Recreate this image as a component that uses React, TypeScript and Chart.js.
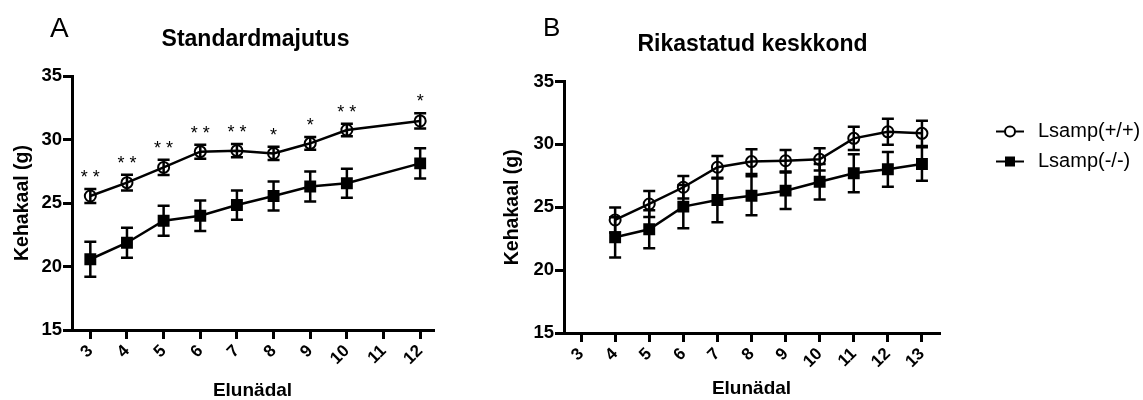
import React, { useEffect, useRef } from "react";
import { Chart, registerables } from "chart.js";

Chart.register(...registerables);

const FONT = "'Liberation Sans', Arial, Helvetica, sans-serif";

// Shared
const seriesNames = ["Lsamp(+/+)", "Lsamp(-/-)"];
const yTicks = [15, 20, 25, 30, 35];
const yAxisTitle = "Kehakaal (g)";
const xAxisTitle = "Elunädal";

// Panel A
const titleA = "Standardmajutus";
const weeksA = [3, 4, 5, 6, 7, 8, 9, 10, 12];
const xTicksA = [3, 4, 5, 6, 7, 8, 9, 10, 11, 12];
const wtA = [25.55, 26.6, 27.8, 29.04, 29.12, 28.9, 29.7, 30.75, 31.46];
const wtAErr = [0.55, 0.62, 0.6, 0.55, 0.52, 0.52, 0.5, 0.5, 0.6];
const koA = [20.57, 21.87, 23.6, 24.0, 24.84, 25.55, 26.3, 26.55, 28.12];
const koAErr = [1.38, 1.18, 1.18, 1.2, 1.15, 1.14, 1.18, 1.14, 1.2];
const starsA = ["* *", "* *", "* *", "* *", "* *", "*", "*", "* *", "*"];

// Panel B
const titleB = "Rikastatud keskkond";
const weeksB = [4, 5, 6, 7, 8, 9, 10, 11, 12, 13];
const xTicksB = [3, 4, 5, 6, 7, 8, 9, 10, 11, 12, 13];
const wtB = [23.99, 25.26, 26.59, 28.18, 28.63, 28.7, 28.81, 30.48, 31.0, 30.88];
const wtBErr = [1.0, 1.03, 0.89, 0.9, 0.98, 0.86, 0.89, 0.93, 1.03, 1.0];
const koB = [22.61, 23.25, 25.05, 25.58, 25.92, 26.32, 27.03, 27.7, 28.02, 28.44];
const koBErr = [1.6, 1.51, 1.72, 1.77, 1.55, 1.45, 1.41, 1.51, 1.38, 1.33];

const errorBarPlugin = {
  id: "errorBars",
  afterDatasetsDraw(chart: any) {
    const { ctx } = chart;
    const yScale = chart.scales.y;
    chart.data.datasets.forEach((ds: any, i: number) => {
      const errs = ds.errors;
      if (!errs) return;
      const meta = chart.getDatasetMeta(i);
      ctx.save();
      ctx.strokeStyle = "#000";
      ctx.lineWidth = 2.5;
      const cap = 6;
      meta.data.forEach((pt: any, j: number) => {
        const v = ds.data[j].y;
        const e = errs[j];
        const top = yScale.getPixelForValue(v + e);
        const bot = yScale.getPixelForValue(v - e);
        ctx.beginPath();
        ctx.moveTo(pt.x, top);
        ctx.lineTo(pt.x, bot);
        ctx.moveTo(pt.x - cap, top);
        ctx.lineTo(pt.x + cap, top);
        ctx.moveTo(pt.x - cap, bot);
        ctx.lineTo(pt.x + cap, bot);
        ctx.stroke();
      });
      ctx.restore();
    });
  },
};

function textPlugin(o: any) {
  return {
    id: "panelText",
    afterDraw(chart: any) {
      const { ctx } = chart;
      ctx.save();
      ctx.fillStyle = "#000";
      // Panel letter
      ctx.font = `normal ${o.letterSize}px ${FONT}`;
      ctx.textAlign = "left";
      ctx.textBaseline = "alphabetic";
      ctx.fillText(o.letter, o.letterX, o.letterY);
      // Title
      ctx.font = `bold 23px ${FONT}`;
      ctx.textAlign = "center";
      ctx.textBaseline = "middle";
      const ca = chart.chartArea;
      ctx.fillText(o.title, (ca.left + ca.right) / 2 + (o.titleDx || 0), o.titleY);
      // Stars
      if (o.stars) {
        const ds = chart.data.datasets[0];
        const meta = chart.getDatasetMeta(0);
        const y = chart.scales.y;
        ctx.font = `normal 18px ${FONT}`;
        ctx.textAlign = "center";
        ctx.textBaseline = "middle";
        meta.data.forEach((pt: any, j: number) => {
          const top = y.getPixelForValue(ds.data[j].y + ds.errors[j]);
          ctx.fillText(o.stars[j], pt.x, top - 11);
        });
      }
      // Legend
      if (o.legend) {
        const lx = o.legend.x;
        const rows = [o.legend.y1, o.legend.y2];
        rows.forEach((ry: number, k: number) => {
          ctx.strokeStyle = "#000";
          ctx.lineWidth = 2;
          ctx.beginPath();
          ctx.moveTo(lx, ry);
          ctx.lineTo(lx + 28, ry);
          ctx.stroke();
          if (k === 0) {
            ctx.beginPath();
            ctx.arc(lx + 14, ry, 5, 0, Math.PI * 2);
            ctx.fillStyle = "#fff";
            ctx.fill();
            ctx.stroke();
          } else {
            ctx.fillStyle = "#000";
            ctx.fillRect(lx + 14 - 5, ry - 5, 10, 10);
          }
          ctx.fillStyle = "#000";
          ctx.font = `normal 20px ${FONT}`;
          ctx.textAlign = "left";
          ctx.textBaseline = "middle";
          ctx.fillText(seriesNames[k], lx + 42, ry - 0.5);
        });
      }
      ctx.restore();
    },
  };
}

function makeDatasets(weeks: number[], wt: number[], wtErr: number[], ko: number[], koErr: number[]) {
  const common = {
    borderColor: "#000",
    borderWidth: 2.5,
    pointBorderColor: "#000",
    pointBorderWidth: 2,
    fill: false,
    tension: 0,
    clip: false as any,
  };
  return [
    {
      ...common,
      label: seriesNames[0],
      data: weeks.map((w, i) => ({ x: w, y: wt[i] })),
      errors: wtErr,
      pointStyle: "circle",
      pointRadius: 5.5,
      pointBackgroundColor: "rgba(0,0,0,0)",
    },
    {
      ...common,
      label: seriesNames[1],
      data: weeks.map((w, i) => ({ x: w, y: ko[i] })),
      errors: koErr,
      pointStyle: "rect",
      pointRadius: 7,
      pointBackgroundColor: "#000",
    },
  ];
}

function makeOptions(p: any) {
  const axisGrid = {
    drawOnChartArea: false,
    drawTicks: true,
    tickLength: 9,
    lineWidth: 3,
    color: "#000",
  };
  const border = { display: true, width: 3, color: "#000" };
  return {
    responsive: false,
    animation: false,
    events: [],
    layout: { padding: p.padding },
    plugins: { legend: { display: false }, tooltip: { enabled: false }, title: { display: false } },
    scales: {
      x: {
        type: "linear",
        min: p.xMin,
        max: p.xMax,
        afterBuildTicks: (s: any) => {
          s.ticks = p.xTicks.map((v: number) => ({ value: v }));
        },
        afterFit: (s: any) => {
          s.height = p.xHeight;
        },
        ticks: {
          autoSkip: false,
          minRotation: 45,
          maxRotation: 45,
          padding: 2,
          color: "#000",
          font: { family: FONT, size: 17, weight: "bold" },
          callback: (v: any) => String(v),
        },
        grid: axisGrid,
        border,
        title: {
          display: true,
          text: xAxisTitle,
          color: "#000",
          font: { family: FONT, size: 19, weight: "bold" },
          padding: { top: 0, bottom: p.xTitlePad },
        },
      },
      y: {
        min: 15,
        max: 35,
        afterBuildTicks: (s: any) => {
          s.ticks = yTicks.map((v) => ({ value: v }));
        },
        afterFit: (s: any) => {
          s.width = p.yWidth;
        },
        ticks: {
          padding: 1,
          color: "#000",
          font: { family: FONT, size: 18.5, weight: "bold" },
        },
        grid: axisGrid,
        border,
        title: {
          display: true,
          text: yAxisTitle,
          color: "#000",
          font: { family: FONT, size: 19.5, weight: "bold" },
          padding: { top: 11, bottom: 0 },
        },
      },
    },
  };
}

export default function App() {
  const refA = useRef<HTMLCanvasElement>(null);
  const refB = useRef<HTMLCanvasElement>(null);

  useEffect(() => {
    const a = new Chart(refA.current as HTMLCanvasElement, {
      type: "line",
      data: { datasets: makeDatasets(weeksA, wtA, wtAErr, koA, koAErr) as any },
      options: makeOptions({
        padding: { left: 0, top: 76, right: 37, bottom: 0 },
        xMin: 2.5,
        xMax: 12.35,
        xTicks: xTicksA,
        xHeight: 70,
        yWidth: 72,
        xTitlePad: -2,
      }) as any,
      plugins: [
        errorBarPlugin,
        textPlugin({ letter: "A", letterSize: 28, letterX: 50, letterY: 37, title: titleA, titleY: 39.5, titleDx: 3, stars: starsA }),
      ],
    });
    const b = new Chart(refB.current as HTMLCanvasElement, {
      type: "line",
      data: { datasets: makeDatasets(weeksB, wtB, wtBErr, koB, koBErr) as any },
      options: makeOptions({
        padding: { left: 20, top: 81.5, right: 204, bottom: 0 },
        xMin: 2.5,
        xMax: 13.5,
        xTicks: xTicksB,
        xHeight: 67,
        yWidth: 74,
        xTitlePad: 0,
      }) as any,
      plugins: [
        errorBarPlugin,
        textPlugin({
          letter: "B",
          letterSize: 26,
          letterX: 73,
          letterY: 36,
          title: titleB,
          titleY: 45,
          titleDx: 1,
          legend: { x: 526, y1: 131.5, y2: 161.5 },
        }),
      ],
    });
    return () => {
      a.destroy();
      b.destroy();
    };
  }, []);

  return (
    <div style={{ position: "absolute", left: 0, top: 0, width: 1143, height: 400, background: "#fff", overflow: "hidden" }}>
      <canvas ref={refA} width={470} height={400} style={{ position: "absolute", left: 0, top: 0 }} />
      <canvas ref={refB} width={673} height={400} style={{ position: "absolute", left: 470, top: 0 }} />
    </div>
  );
}
